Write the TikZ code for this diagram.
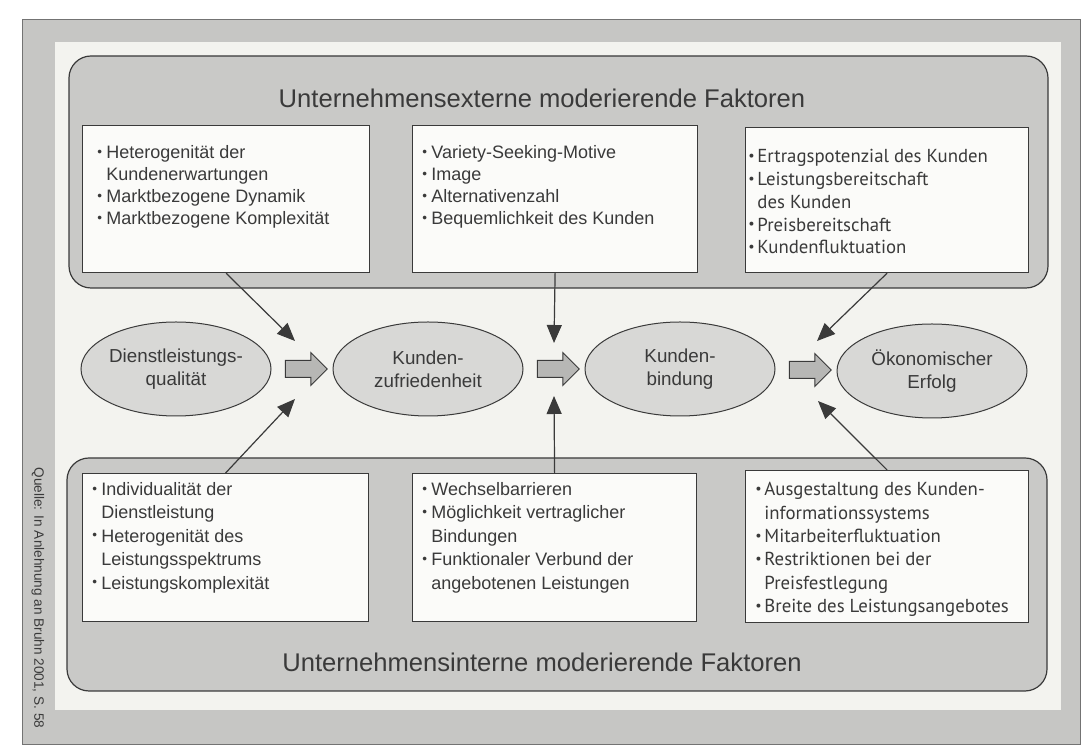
\documentclass[tikz,border=0pt]{standalone}
\usepackage{fontspec}
\setmainfont{Liberation Sans}
\newfontfamily\myr{PT Sans}
\usetikzlibrary{shapes.geometric,shapes.arrows,arrows.meta,positioning,calc}

\definecolor{bandgray}{HTML}{C6C6C4}
\definecolor{paper}{HTML}{F3F3EF}
\definecolor{panelgray}{HTML}{C9C9C7}
\definecolor{boxwhite}{HTML}{FBFBF9}
\definecolor{ovalgray}{HTML}{D8D8D6}
\definecolor{arrgray}{HTML}{B7B7B5}
\definecolor{ink}{HTML}{3A3A3A}

\newcommand{\itm}{\makebox[4.5pt][l]{\raisebox{0.25ex}{\scalebox{0.75}{\textbullet}}}}
\newcommand{\cnt}{\hspace*{4.5pt}}

\tikzset{
  panel/.style={draw=ink, fill=panelgray, line width=0.6pt, rounded corners=11pt},
  fbox/.style={draw=ink, fill=boxwhite, line width=0.6pt, inner sep=0pt},
  ftext/.style={inner sep=0pt, anchor=north west, align=left, text=ink,
    font=\fontsize{9}{11}\selectfont},
  mtext/.style={ftext, font=\myr\fontsize{9.4}{11.4}\selectfont},
  oval/.style={ellipse, draw=ink, fill=ovalgray, line width=0.5pt,
    minimum width=95pt, minimum height=47pt, inner sep=0pt, align=center,
    text=ink, font=\fontsize{9.4}{11.5}\selectfont},
  barrow/.style={single arrow, draw=ink, fill=arrgray, line width=0.5pt,
    minimum height=21pt, minimum width=16pt, inner sep=4pt,
    single arrow head extend=4pt},
  infl/.style={draw=ink, line width=0.6pt, -{Triangle[length=9pt,width=7.5pt]}},
  title/.style={text=ink, font=\fontsize{12.8}{14}\selectfont}
}

\begin{document}
\begin{tikzpicture}[x=0.5pt,y=-0.5pt]
  \useasboundingbox (0,0) rectangle (1082,747);
  % frame
  \fill[white] (0,0) rectangle (1082,747);
  \draw[fill=bandgray, draw=black!55, line width=0.5pt] (22,20) rectangle (1080,745);
  \fill[paper] (55,42) rectangle (1061,710);

  % the two panels
  \draw[panel] (69,56) rectangle (1048,288);
  \draw[panel] (67,458) rectangle (1047,691);
  \node[title] (ext) at (542,98) {Unternehmensexterne moderierende Faktoren};
  \node[title] (int) at (542,662) {Unternehmensinterne moderierende Faktoren};

  % factor boxes
  \node[fbox, minimum width=143.5pt, minimum height=73.5pt, anchor=north west] (b1) at (82,125) {};
  \node[fbox, minimum width=142.5pt, minimum height=73.5pt, anchor=north west] (b2) at (412,125) {};
  \node[fbox, minimum width=141.5pt, minimum height=72.5pt, anchor=north west] (b3) at (745,127) {};
  \node[fbox, minimum width=143pt, minimum height=74pt, anchor=north west] (b4) at (82,473) {};
  \node[fbox, minimum width=142pt, minimum height=74pt, anchor=north west] (b5) at (412,473) {};
  \node[fbox, minimum width=141.5pt, minimum height=76pt, anchor=north west] (b6) at (745,470) {};

  \node[ftext] at ($(b1.north west)+(15,20)$) {\itm Heterogenität der\\\cnt Kundenerwartungen\\
    \itm Marktbezogene Dynamik\\\itm Marktbezogene Komplexität};
  \node[ftext] at ($(b2.north west)+(10,20)$) {\itm Variety-Seeking-Motive\\\itm Image\\
    \itm Alternativenzahl\\\itm Bequemlichkeit des Kunden};
  \node[mtext] at ($(b3.north west)+(3,22)$) {\itm Ertragspotenzial des Kunden\\\itm Leistungsbereitschaft\\
    \cnt des Kunden\\\itm Preisbereitschaft\\\itm Kundenfluktuation};
  \node[ftext, font=\fontsize{9}{11.7}\selectfont] at ($(b4.north west)+(10,9)$) {\itm Individualität der\\\cnt Dienstleistung\\
    \itm Heterogenität des\\\cnt Leistungsspektrums\\\itm Leistungskomplexität};
  \node[ftext, font=\fontsize{9}{11.7}\selectfont] at ($(b5.north west)+(10,9)$) {\itm Wechselbarrieren\\\itm Möglichkeit vertraglicher\\
    \cnt Bindungen\\\itm Funktionaler Verbund der\\\cnt angebotenen Leistungen};
  \node[mtext, font=\myr\fontsize{9.4}{11.7}\selectfont] at ($(b6.north west)+(10,12)$) {\itm Ausgestaltung des Kunden-\\\cnt informationssystems\\
    \itm Mitarbeiterfluktuation\\\itm Restriktionen bei der\\\cnt Preisfestlegung\\
    \itm Breite des Leistungsangebotes};

  % chain
  \node[oval] (e1) at (176,369) {Dienstleistungs-\\qualität};
  \node[oval] (e2) at (428,369) {Kunden-\\zufriedenheit};
  \node[oval] (e3) at (680,369) {Kunden-\\bindung};
  \node[oval] (e4) at (932,371) {Ökonomischer\\Erfolg};
  \node[barrow] (a1) at ($(e1.east)!0.5!(e2.west)$) {};
  \node[barrow] (a2) at ($(e2.east)!0.5!(e3.west)$) {};
  \node[barrow] (a3) at ($(e3.east)!0.5!(e4.west)$) {};

  % influences
  \coordinate (t1) at (295,341);
  \coordinate (t2) at (554,343);
  \coordinate (t3) at (817,341);
  \coordinate (t4) at (295,399);
  \coordinate (t5) at (554,396);
  \coordinate (t6) at (818,401);
  \draw[infl] (b1.south) -- (t1);
  \draw[infl] (b2.south) -- (t2);
  \draw[infl] (b3.south) -- (t3);
  \draw[infl] (b4.north) -- (t4);
  \draw[infl] (b5.north) -- (t5);
  \draw[infl] (b6.north) -- (t6);

  \node[rotate=-90, text=ink, font=\fontsize{6.8}{8}\selectfont] (src) at (38,598)
    {Quelle: In Anlehnung an Bruhn 2001, S. 58};
\end{tikzpicture}
\end{document}
